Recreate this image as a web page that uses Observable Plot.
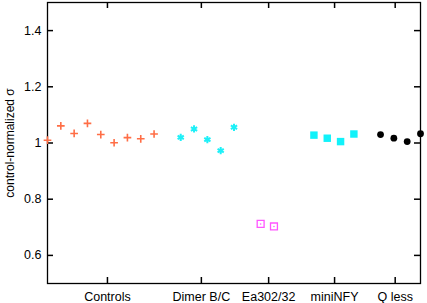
<!DOCTYPE html>
<html><head><meta charset="utf-8">
<script src="https://cdn.jsdelivr.net/npm/d3@7"></script>
<script src="https://cdn.jsdelivr.net/npm/@observablehq/plot@0.6"></script>
<style>body{margin:0;background:#fff}</style>
</head><body><div id="chart"></div>
<script>
const categories = ["Controls", "Dimer B/C", "Ea302/32", "miniNFY", "Q less"];
const categoryTickPositions = [4.5, 11.55, 16.6, 21.55, 26.1];
const controlsX = [0, 1, 2, 3, 4, 5, 6, 7, 8];
const controlsY = [1.010, 1.061, 1.034, 1.070, 1.030, 1.001, 1.019, 1.015, 1.032];
const dimerX = [10, 11, 12, 13, 14];
const dimerY = [1.020, 1.050, 1.012, 0.973, 1.056];
const eaX = [16, 17];
const eaY = [0.712, 0.703];
const miniX = [20, 21, 22, 23];
const miniY = [1.028, 1.017, 1.005, 1.032];
const qlessX = [25, 26, 27, 28];
const qlessY = [1.030, 1.017, 1.005, 1.033];
const yTicks = [0.6, 0.8, 1.0, 1.2, 1.4];

const pts = (xs, ys) => xs.map((x, i) => ({x, y: ys[i]}));
const controls = pts(controlsX, controlsY);
const dimer = pts(dimerX, dimerY);
const ea = pts(eaX, eaY);
const mini = pts(miniX, miniY);
const qless = pts(qlessX, qlessY);
const catLabel = d => categories[categoryTickPositions.indexOf(d)];
const blank = () => "";

const W = 427, H = 303, ML = 47, MR = 7, MT = 2, MB = 20, TICK = 6;
const innerW = W - ML - MR, innerH = H - MT - MB;

const chart = Plot.plot({
  width: W, height: H,
  marginLeft: ML, marginRight: MR, marginTop: MT, marginBottom: MB,
  style: {fontFamily: "'Liberation Sans', Arial, Helvetica, sans-serif", fontSize: "12.5px", color: "black", background: "white"},
  x: {domain: [0, 28]},
  y: {domain: [0.5, 1.5]},
  marks: [
    Plot.frame({stroke: "black", strokeWidth: 1.3}),
    Plot.axisY(yTicks, {anchor: "left", tickSize: 0, tickPadding: 6, tickFormat: d => String(d), label: null}),
    Plot.axisY(yTicks, {anchor: "left", tickSize: 0, tickFormat: blank, fontSize: 12,
      label: "control-normalized σ", labelAnchor: "center", labelOffset: 42, labelArrow: false}),
    Plot.axisX(categoryTickPositions, {anchor: "bottom", tickSize: 0, tickPadding: 9, tickFormat: catLabel, label: null}),
    Plot.tickY(yTicks, {y: d => d, insetRight: innerW - TICK, stroke: "black", strokeWidth: 1.5}),
    Plot.tickY(yTicks, {y: d => d, insetLeft: innerW - TICK, stroke: "black", strokeWidth: 1.5}),
    Plot.tickX(categoryTickPositions, {x: d => d, insetTop: innerH - TICK, stroke: "black", strokeWidth: 1.5}),
    Plot.tickX(categoryTickPositions, {x: d => d, insetBottom: innerH - TICK, stroke: "black", strokeWidth: 1.5}),
    Plot.dot(controls, {x: "x", y: "y", symbol: "plus", r: 2.6, stroke: "#ff6e46", strokeWidth: 1.6}),
    Plot.dot(dimer, {x: "x", y: "y", symbol: "asterisk", r: 3.4, stroke: "#1ef0f8", strokeWidth: 2}),
    Plot.dot(ea, {x: "x", y: "y", symbol: "square2", r: 4.4, stroke: "#ff55ff", strokeWidth: 1.3}),
    Plot.dot(ea, {x: "x", y: "y", symbol: "circle", r: 0.8, fill: "#ff55ff"}),
    Plot.dot(mini, {x: "x", y: "y", symbol: "square", r: 4.2, fill: "#11f2fa"}),
    Plot.dot(qless, {x: "x", y: "y", symbol: "circle", r: 3.4, fill: "black"})
  ]
});
document.getElementById("chart").append(chart);
</script>
</body></html>
